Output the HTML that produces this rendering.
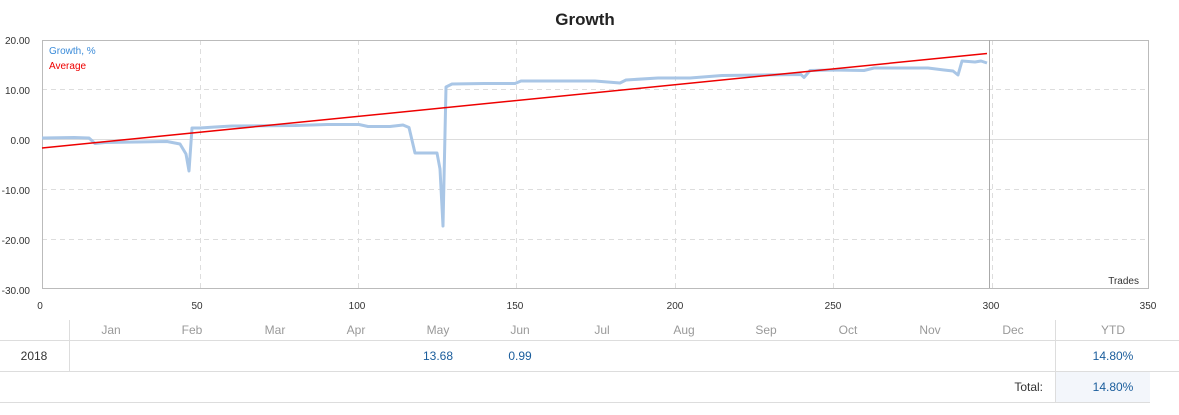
<!DOCTYPE html><html><head><meta charset="utf-8"><style>
body{margin:0;background:#fff;font-family:"Liberation Sans","DejaVu Sans",sans-serif;}
</style></head><body>
<svg width="1179" height="410" xmlns="http://www.w3.org/2000/svg" font-family="Liberation Sans, DejaVu Sans, sans-serif">
<text x="585" y="25" text-anchor="middle" font-size="17" font-weight="bold" fill="#222">Growth</text>
<g stroke="#ddd" stroke-dasharray="5,4" stroke-width="1">
<line x1="42" y1="89.5" x2="1149" y2="89.5"/><line x1="42" y1="189.5" x2="1149" y2="189.5"/><line x1="42" y1="239.5" x2="1149" y2="239.5"/>
<line x1="200.5" y1="40" x2="200.5" y2="288"/><line x1="358.5" y1="40" x2="358.5" y2="288"/><line x1="516.5" y1="40" x2="516.5" y2="288"/><line x1="675.5" y1="40" x2="675.5" y2="288"/><line x1="833.5" y1="40" x2="833.5" y2="288"/><line x1="992.5" y1="40" x2="992.5" y2="288"/>
</g>
<line x1="42" y1="139.5" x2="1149" y2="139.5" stroke="#ddd"/>
<rect x="42.5" y="40.5" width="1106" height="248" fill="none" stroke="#bbb"/>
<line x1="989.5" y1="40" x2="989.5" y2="288" stroke="#aaa"/>
<g font-size="10" fill="#333" text-anchor="end">
<text x="30" y="44">20.00</text><text x="30" y="94">10.00</text><text x="30" y="144">0.00</text><text x="30" y="194">-10.00</text><text x="30" y="244">-20.00</text><text x="30" y="294">-30.00</text>
</g>
<g font-size="10" fill="#333" text-anchor="middle">
<text x="40" y="309">0</text><text x="197" y="309">50</text><text x="357" y="309">100</text><text x="515" y="309">150</text><text x="675" y="309">200</text><text x="833" y="309">250</text><text x="991" y="309">300</text><text x="1148" y="309">350</text>
</g>
<text x="1139" y="284" font-size="10" fill="#333" text-anchor="end">Trades</text>
<text x="49" y="54" font-size="10" fill="#3a8bd9">Growth, %</text>
<text x="49" y="69" font-size="10" fill="#e00">Average</text>
<polyline fill="none" stroke="#a9c6e6" stroke-width="3" stroke-linejoin="round" points="
42,138 74,137.5 89,138 95,143.5 105,142.5 137,142 167,141.5 180,144 186,154 189,171 192,128 200,128 215,127 232,126 295,125.5 327,124.5 359,124.5 368,126.5 390,126.5 403,125 409,127.5 415,153 437,153 440,169 443,226 446,87 452,84 484,83.5 515,83.5 521,81 595,81 620,83 626,80 658,78 690,78 722,75.5 801,74.5 804,77.5 810,70.5 833,70 864,70.5 874,68 928,68 944,70 953,71 958,75 962,61 975,62 981,61 987,63"/>
<line x1="42" y1="148" x2="987" y2="53.5" stroke="#e00" stroke-width="1.5"/>
<g stroke="#ddd"><line x1="0" y1="340.5" x2="1179" y2="340.5"/><line x1="0" y1="371.5" x2="1179" y2="371.5"/><line x1="0" y1="402.5" x2="1150" y2="402.5"/>
<line x1="69.5" y1="320" x2="69.5" y2="371"/><line x1="1055.5" y1="320" x2="1055.5" y2="402"/></g>
<rect x="1056" y="372" width="94" height="30" fill="#f3f6fb"/>
<g font-size="12" fill="#999" text-anchor="middle">
<text x="111" y="334">Jan</text><text x="192" y="334">Feb</text><text x="275" y="334">Mar</text><text x="356" y="334">Apr</text><text x="438" y="334">May</text><text x="520" y="334">Jun</text><text x="602" y="334">Jul</text><text x="684" y="334">Aug</text><text x="766" y="334">Sep</text><text x="848" y="334">Oct</text><text x="930" y="334">Nov</text><text x="1013" y="334">Dec</text><text x="1113" y="334">YTD</text>
</g>
<text x="34" y="360" font-size="12" fill="#333" text-anchor="middle">2018</text>
<g font-size="12" fill="#1a5d9c" text-anchor="middle">
<text x="438" y="360">13.68</text><text x="520" y="360">0.99</text><text x="1113" y="360">14.80%</text><text x="1113" y="391">14.80%</text>
</g>
<text x="1043" y="391" font-size="12" fill="#333" text-anchor="end">Total:</text>
</svg></body></html>
